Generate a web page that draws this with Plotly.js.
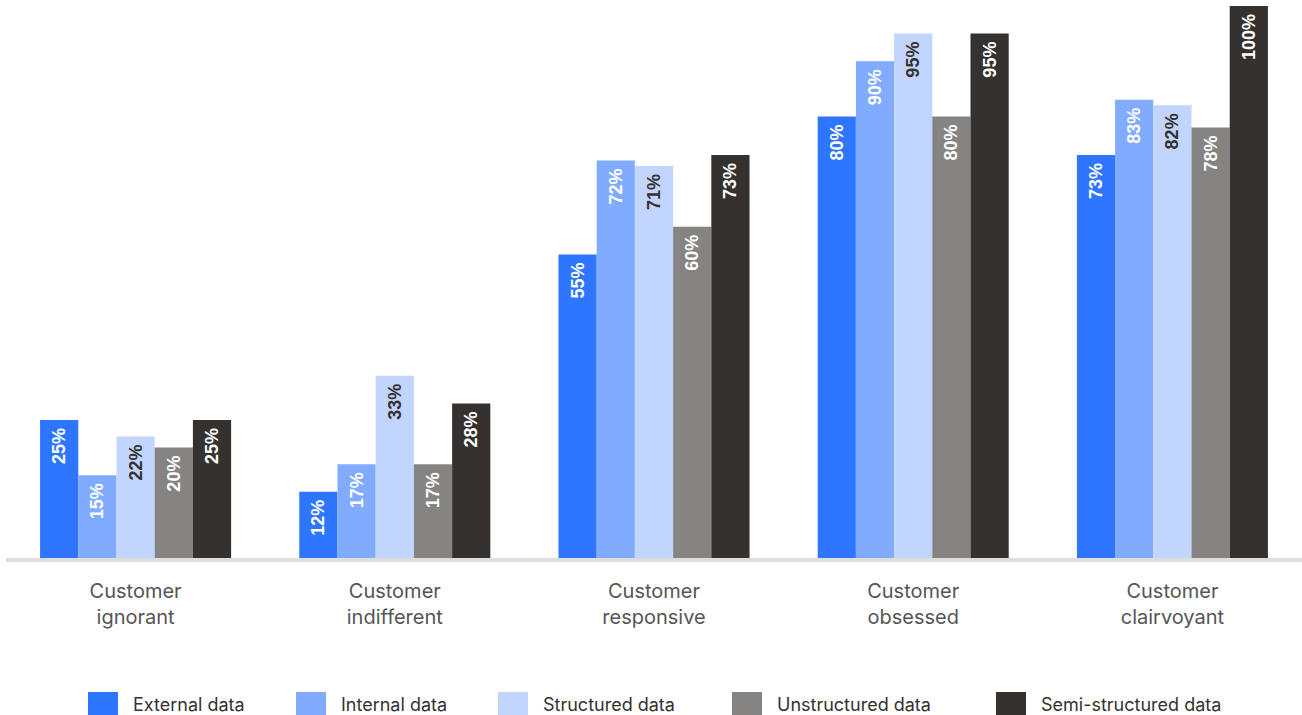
<!DOCTYPE html>
<html>
<head>
<meta charset="utf-8">
<script src="https://cdn.plot.ly/plotly-3.0.1.min.js"></script>
<style>html,body{margin:0;padding:0;background:#fff;}#chart{width:1302px;height:715px;}</style>
</head>
<body>
<div id="chart"></div>
<script>
const categories = ["Customer<br>ignorant", "Customer<br>indifferent", "Customer<br>responsive", "Customer<br>obsessed", "Customer<br>clairvoyant"];
const seriesNames = ["External data", "Internal data", "Structured data", "Unstructured data", "Semi-structured data"];
const externalData = [25, 12, 55, 80, 73];
const internalData = [15, 17, 72, 90, 83];
const structuredData = [22, 33, 71, 95, 82];
const unstructuredData = [20, 17, 60, 80, 78];
const semiStructuredData = [25, 28, 73, 95, 100];

const seriesValues = [externalData, internalData, structuredData, unstructuredData, semiStructuredData];
const colors = ["#2e75ff", "#80abff", "#c2d5ff", "#858483", "#35312f"];
const textColors = ["#ffffff", "#ffffff", "#35312f", "#ffffff", "#ffffff"];

const traces = seriesValues.map((vals, i) => ({
  type: "bar",
  name: seriesNames[i],
  x: categories,
  y: vals,
  marker: {color: colors[i]},
  text: vals.map(v => v + "%\u00a0"),
  textposition: "inside",
  insidetextanchor: "end",
  textangle: -90,
  constraintext: "none",
  textfont: {family: "Liberation Sans, Arial, sans-serif", size: 18, color: textColors[i], weight: "bold"},
  hoverinfo: "skip",
  showlegend: false
}));

const L = 6, W = 1296, T = 6, H = 552;
const px = x => (x - L) / W;
const py = y => (T + H - y) / H;
const legendX = [88, 296, 498, 732, 996];
const shapes = [];
const annotations = [];
seriesNames.forEach((n, i) => {
  shapes.push({type: "rect", xref: "paper", yref: "paper",
    x0: px(legendX[i]), x1: px(legendX[i] + 30), y0: py(715), y1: py(692),
    fillcolor: colors[i], line: {width: 0}});
  annotations.push({xref: "paper", yref: "paper", x: px(legendX[i] + 43), y: py(704),
    xanchor: "left", yanchor: "middle", text: n, showarrow: false,
    font: {family: "Inter, Liberation Sans, sans-serif", size: 18, color: "#35312f"}});
});

const layout = {
  width: 1302, height: 715,
  margin: {l: L, r: 0, t: T, b: 715 - T - H, pad: 0},
  paper_bgcolor: "#ffffff", plot_bgcolor: "#ffffff",
  barmode: "group", bargap: 0.263, bargroupgap: 0,
  showlegend: false,
  xaxis: {showline: true, linecolor: "#dddddd", linewidth: 4, ticks: "", showgrid: false,
    ticklabelstandoff: 12,
    tickfont: {family: "Inter, Liberation Sans, sans-serif", size: 20, color: "#555555"}},
  yaxis: {range: [0, 100], visible: false, showgrid: false, zeroline: false},
  shapes: shapes,
  annotations: annotations
};

Plotly.newPlot("chart", traces, layout, {displayModeBar: false, staticPlot: true});
</script>
</body>
</html>
